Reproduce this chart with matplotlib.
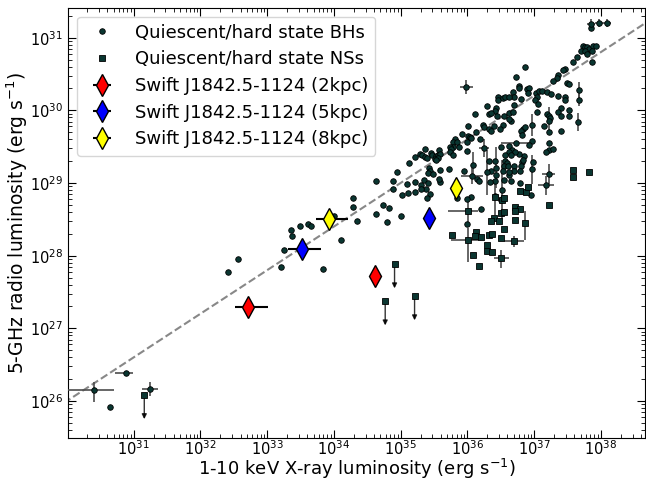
import numpy as np
import matplotlib
matplotlib.use("Agg")
import matplotlib.pyplot as plt

# ---------------- data (log10 values) ----------------
# Quiescent / hard-state black holes without visible error bars: (log Lx, log Lr)
bh_lx = [30.64,
         32.42, 32.57, 33.21, 33.26, 33.36, 33.38, 33.49, 33.62, 33.66, 33.84, 34.01, 34.11, 34.29, 34.29,
         34.35, 34.63, 34.74, 34.79, 34.83, 34.88, 35.02, 35.01, 35.11, 35.22, 35.30, 35.38, 35.44, 35.40,
         35.59, 34.63, 34.88, 34.94,
         35.85, 36.00, 36.20, 36.05,
         36.29, 36.43, 36.41, 36.33, 36.45, 36.12, 36.01, 36.23, 36.25, 36.40, 36.53, 36.33, 36.49, 36.13,
         35.92, 36.01, 36.04, 36.06, 35.82, 35.78, 35.85, 35.99, 36.19, 35.78, 35.74, 35.76, 35.87, 35.57,
         35.36, 35.74, 35.99, 35.79, 35.45, 35.29, 35.32, 35.36, 35.39, 35.22, 35.47, 35.53, 35.56, 35.59,
         35.51, 35.56, 35.53, 35.12, 35.43, 35.44, 35.59, 35.72, 35.41, 35.49, 35.58, 35.35, 35.41, 35.22,
         35.31, 35.10, 35.95, 36.15, 36.17, 36.00,
         36.70, 36.36, 36.55, 36.62, 36.69, 36.65, 36.63, 36.35, 37.41, 37.36, 37.40, 37.52, 37.52, 37.19,
         37.22, 37.24, 37.15, 37.41, 37.23, 36.83, 36.80, 36.82, 36.86, 36.97, 37.22, 37.22, 37.28,
         37.18, 36.92, 36.99, 36.85, 36.82, 36.83, 36.80, 36.79, 36.70, 36.70, 36.77, 36.62, 36.51, 36.67,
         36.72, 36.62, 36.65, 36.57, 36.56, 36.59, 36.55, 36.61, 36.54, 36.63, 36.63, 36.41, 36.32,
         36.35, 36.43, 36.55, 36.66, 36.79, 36.42, 36.34, 36.42, 36.54, 36.50, 36.96,
         37.85, 37.73, 37.76, 37.80, 37.83, 37.88, 37.93, 37.71, 37.77, 37.80, 37.87, 37.65, 37.58, 37.87,
         36.86, 37.47, 37.43, 37.36, 37.35, 37.28, 36.73, 36.77, 36.77, 36.89, 36.93, 36.91, 37.03, 37.07,
         37.12, 37.19, 37.25, 37.36, 37.49, 37.53, 37.47, 37.46, 37.04, 37.01, 37.06, 36.68, 36.70, 36.81,
         36.46, 36.46, 36.53, 36.57, 36.62, 37.04]
bh_lr = [25.92,
         27.78, 27.96, 27.85, 28.08, 28.36, 28.27, 28.41, 28.44, 28.41, 27.82, 28.55, 28.22, 28.79, 28.67,
         28.48, 28.58, 28.70, 28.47, 28.65, 28.92, 28.84, 28.55, 28.86, 28.87, 28.97, 28.92, 28.85, 28.79,
         29.02, 29.03, 29.03, 29.15,
         28.80, 28.44, 28.64, 28.81,
         30.06, 30.03, 29.99, 29.95, 29.92, 29.95, 29.79, 29.80, 29.77, 29.78, 29.80, 29.75, 29.74, 29.70,
         29.67, 29.65, 29.63, 29.62, 29.60, 29.57, 29.57, 29.56, 29.61, 29.49, 29.49, 29.47, 29.49, 29.46,
         29.47, 29.42, 29.44, 29.39, 29.41, 29.40, 29.38, 29.36, 29.34, 29.36, 29.38, 29.37, 29.39, 29.40,
         29.33, 29.35, 29.31, 29.28, 29.20, 29.17, 29.18, 29.19, 29.14, 29.12, 29.06, 29.04, 29.00, 29.01,
         28.92, 28.98, 29.17, 29.05, 29.03, 28.78,
         30.07, 29.97, 29.92, 29.97, 29.98, 29.85, 29.88, 29.72, 30.03, 29.98, 29.92, 30.00, 29.92, 29.95,
         29.92, 29.90, 29.79, 29.72, 29.70, 29.75, 29.71, 29.66, 29.77, 29.58, 29.55, 29.45, 29.47,
         29.42, 29.52, 29.29, 29.37, 29.29, 29.32, 29.23, 29.16, 29.24, 29.16, 29.40, 29.51, 29.49, 29.46,
         29.42, 29.43, 29.39, 29.39, 29.30, 29.27, 29.24, 29.23, 29.16, 29.11, 29.15, 29.30, 29.30,
         29.16, 29.11, 29.04, 29.03, 29.00, 29.03, 29.02, 28.82, 28.79, 28.77, 28.84,
         31.13, 30.89, 30.87, 30.87, 30.84, 30.88, 30.88, 30.82, 30.81, 30.78, 30.82, 30.73, 30.67, 30.66,
         30.59, 30.57, 30.55, 30.49, 30.45, 30.40, 30.46, 30.34, 30.31, 30.29, 30.31, 30.24, 30.24, 30.26,
         30.26, 30.25, 30.23, 30.20, 30.37, 30.36, 30.18, 30.14, 30.18, 30.14, 30.09, 30.25, 30.18, 30.16,
         30.18, 30.14, 30.17, 30.18, 30.18, 29.98]

# Black holes with error bars: log Lx, log Lr, x-err (lo, hi), y-err (lo, hi) in dex
bhe_lx = [30.41, 30.88, 31.25, 36.30, 36.43, 36.52, 36.97, 36.08, 36.25, 36.07, 36.73, 37.22, 37.18,
          37.67, 37.67, 35.98, 37.85, 37.98, 38.10, 37.23, 37.66, 36.97]
bhe_lr = [26.15, 26.38, 26.17, 29.15, 29.21, 28.91, 29.80, 29.25, 29.48, 29.10, 29.55, 29.12, 28.97,
          30.28, 30.14, 30.32, 31.19, 31.20, 31.20, 29.86, 29.84, 29.19]
bhe_xlo = [0.40, 0.16, 0.12, 0.0, 0.0, 0.0, 0.0, 0.0, 0.07, 0.17, 0.23, 0.10, 0.12,
           0.0, 0.0, 0.09, 0.06, 0.06, 0.06, 0.0, 0.0, 0.0]
bhe_xhi = [0.29, 0.11, 0.11, 0.0, 0.0, 0.0, 0.0, 0.0, 0.07, 0.16, 0.22, 0.10, 0.12,
           0.0, 0.0, 0.10, 0.06, 0.06, 0.06, 0.0, 0.0, 0.0]
bhe_ylo = [0.16, 0.03, 0.10, 0.31, 0.28, 0.40, 0.15, 0.18, 0.12, 0.11, 0.0, 0.14, 0.13,
           0.11, 0.08, 0.10, 0.06, 0.05, 0.05, 0.14, 0.12, 0.20]
bhe_yhi = [0.11, 0.03, 0.09, 0.31, 0.28, 0.40, 0.15, 0.18, 0.12, 0.11, 0.0, 0.14, 0.13,
           0.11, 0.09, 0.10, 0.06, 0.05, 0.05, 0.18, 0.13, 0.20]

# Quiescent / hard-state neutron stars (detections, no visible error bars)
ns_lx = [37.58, 37.59, 37.83, 37.23, 36.79, 36.88, 36.91, 36.52, 36.55, 36.50, 36.55, 36.72, 36.79,
         36.71, 36.40, 36.36, 36.47, 36.72, 36.55, 36.13, 36.12, 36.20, 36.33, 36.37, 35.77, 36.50,
         36.30, 36.30, 36.37, 36.09, 36.17]
ns_lr = [29.18, 29.08, 29.15, 28.70, 28.89, 28.87, 28.94, 28.76, 28.79, 28.59, 28.60, 28.67, 28.64,
         28.61, 28.52, 28.48, 28.48, 28.49, 28.37, 28.33, 28.27, 28.26, 28.28, 28.30, 28.28, 28.24,
         28.15, 28.06, 28.05, 28.01, 27.86]
# Neutron stars with error bars
nse_lx = [36.01, 36.01, 36.86, 36.70, 36.51, 36.41]
nse_lr = [28.62, 28.22, 28.45, 28.20, 27.97, 28.81]
nse_xlo = [0.30, 0.26, 0.0, 0.15, 0.11, 0.0]
nse_xhi = [0.15, 0.16, 0.0, 0.15, 0.11, 0.0]
nse_ylo = [0.18, 0.31, 0.23, 0.08, 0.14, 0.25]
nse_yhi = [0.16, 0.16, 0.17, 0.07, 0.11, 0.25]
# Neutron-star radio upper limits
nsul_lx = [31.16, 34.91, 34.77, 35.21]
nsul_lr = [26.08, 27.88, 27.37, 27.44]
ul_len = 0.33  # arrow length (dex)

# Swift J1842.5-1124 at three distances (two epochs each)
swift_labels = ["Swift J1842.5-1124 (2kpc)", "Swift J1842.5-1124 (5kpc)", "Swift J1842.5-1124 (8kpc)"]
swift_colors = ["red", "blue", "yellow"]
swift_lx = [[32.72, 34.62], [33.52, 35.42], [33.93, 35.83]]
swift_lr = [[27.29, 27.72], [28.09, 28.52], [28.50, 28.93]]
swift_xlo = [0.20, 0.0]
swift_xhi = [0.29, 0.0]

# Correlation line  log Lr = a + b (log Lx - 30)
corr_a, corr_b = 26.0, 0.6

xlim = (1.04e30, 4.6e38)
ylim = (3.07e25, 2.6e31)

# ---------------- plotting ----------------
face = "#0a3631"
ecol = "0.3"


def asym(l, lo, hi):
    l, lo, hi = map(np.asarray, (l, lo, hi))
    v = 10.0 ** l
    return v, np.vstack([v - 10.0 ** (l - lo), 10.0 ** (l + hi) - v])


fig = plt.figure(figsize=(6.46, 4.83), dpi=100)
ax = fig.add_axes([68 / 646, 1 - 438.3 / 483, (645 - 68) / 646, (438.3 - 7.5) / 483])
ax.set_xscale("log")
ax.set_yscale("log")

# correlation
lxx = np.linspace(np.log10(xlim[0]) - 0.2, np.log10(xlim[1]) + 0.2, 10)
ax.plot(10 ** lxx, 10 ** (corr_a + corr_b * (lxx - 30)), ls="--", color="#888888", lw=1.5, zorder=1)

# BH with errors
x, xe = asym(bhe_lx, bhe_xlo, bhe_xhi)
y, ye = asym(bhe_lr, bhe_ylo, bhe_yhi)
ax.errorbar(x, y, xerr=xe, yerr=ye, fmt="o", ms=4, mfc=face, mec="k", mew=0.6,
            ecolor=ecol, elinewidth=1.2, capsize=0, zorder=3)
# NS with errors
x, xe = asym(nse_lx, nse_xlo, nse_xhi)
y, ye = asym(nse_lr, nse_ylo, nse_yhi)
ax.errorbar(x, y, xerr=xe, yerr=ye, fmt="s", ms=5, mfc=face, mec="k", mew=0.6,
            ecolor=ecol, elinewidth=1.2, capsize=0, zorder=3)
# NS upper limits
for lx, lr in zip(nsul_lx, nsul_lr):
    ax.annotate("", xy=(10 ** lx, 10 ** (lr - ul_len)), xytext=(10 ** lx, 10 ** lr),
                arrowprops=dict(arrowstyle="-|>", color="k", lw=1.0, alpha=0.8,
                                mutation_scale=7, shrinkA=0, shrinkB=0), zorder=2)
ax.plot(10 ** np.array(nsul_lx), 10 ** np.array(nsul_lr), "s", ms=5, mfc=face, mec="k", mew=0.6, zorder=3)

# plain points
ax.plot(10 ** np.array(bh_lx), 10 ** np.array(bh_lr), "o", ms=4, mfc=face, mec="k", mew=0.6,
        ls="none", zorder=3, label="Quiescent/hard state BHs")
ax.plot(10 ** np.array(ns_lx), 10 ** np.array(ns_lr), "s", ms=5, mfc=face, mec="k", mew=0.6,
        ls="none", zorder=3, label="Quiescent/hard state NSs")

# Swift source
for lab, col, lxs, lrs in zip(swift_labels, swift_colors, swift_lx, swift_lr):
    x, xe = asym(lxs, swift_xlo, swift_xhi)
    ax.errorbar(x, 10 ** np.array(lrs), xerr=xe, fmt="d", ms=11, mfc=col, mec="k", mew=1.0,
                ecolor="k", elinewidth=1.5, capsize=0, zorder=5, label=lab)

ax.set_xlim(*xlim)
ax.set_ylim(*ylim)
ax.tick_params(which="both", direction="in", top=True, right=True, labelsize=10.5)
ax.tick_params(axis="x", which="both", pad=0.5)
ax.tick_params(which="major", length=6)
ax.tick_params(which="minor", length=3)
ax.set_xlabel("1-10 keV X-ray luminosity (erg s$^{-1}$)", fontsize=13)
ax.set_ylabel("5-GHz radio luminosity (erg s$^{-1}$)", fontsize=13.5)
ax.xaxis.set_label_coords(0.5, -0.044)
ax.yaxis.set_label_coords(-0.066, 0.5)

h, l = ax.get_legend_handles_labels()
order = [l.index(s) for s in ["Quiescent/hard state BHs", "Quiescent/hard state NSs"] + swift_labels]
ax.legend([h[i] for i in order], [l[i] for i in order], loc="upper left", fontsize=13,
          labelspacing=0.48, borderpad=0.4)

fig.savefig("out.png", dpi=100)
